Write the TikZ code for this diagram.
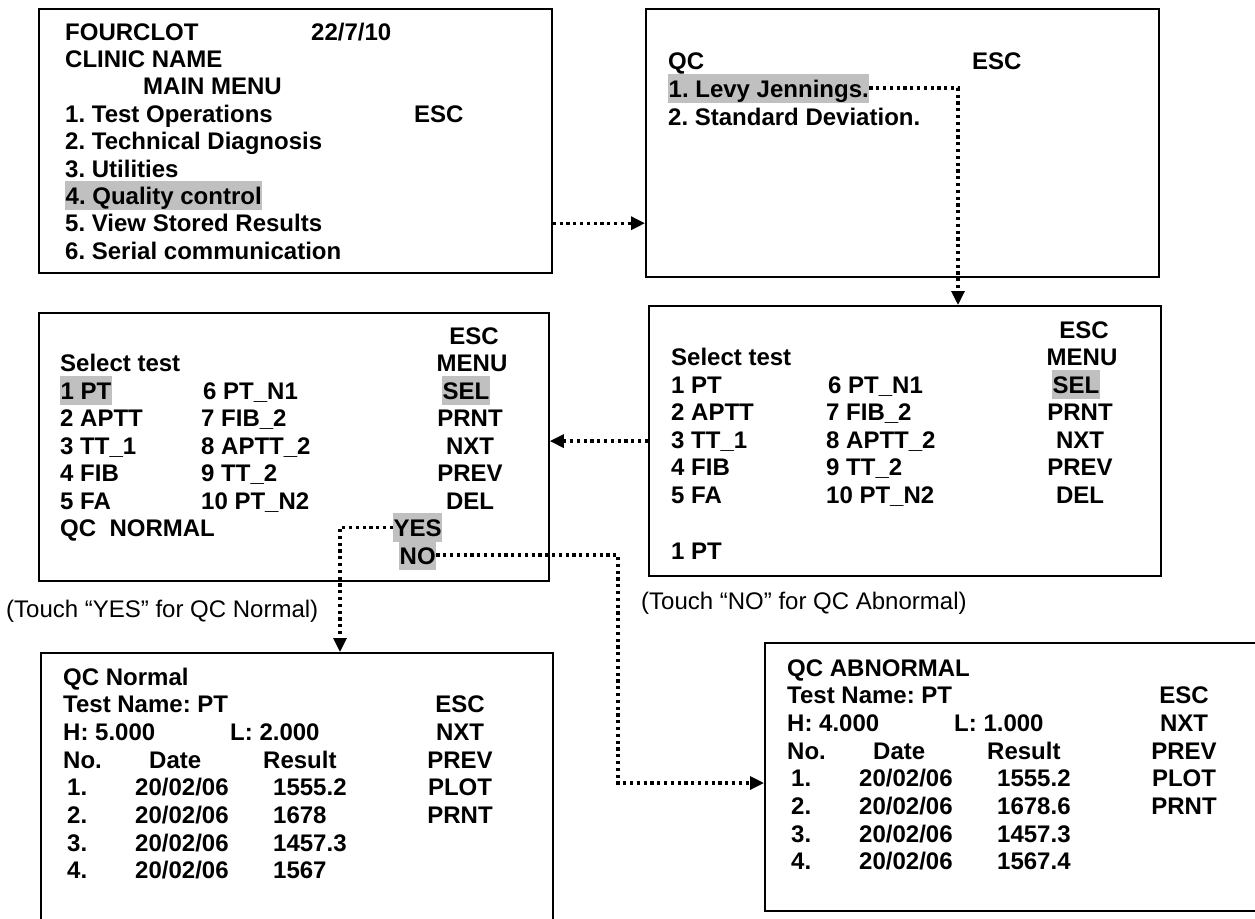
\documentclass[tikz,border=0pt]{standalone}
\usepackage{fontspec}
\setmainfont{Liberation Sans}
\usetikzlibrary{arrows.meta}
\definecolor{selgray}{HTML}{C0C0C0}
\frenchspacing
\tikzset{
  >={Triangle[length=14pt,width=13pt]},
  screen/.style 2 args={rectangle, draw, line width=1.8pt, anchor=north west,
    minimum width=#1, minimum height=#2, inner sep=0pt},
  row/.style={anchor=base west, inner sep=0pt, font=\bfseries\fontsize{24}{28}\selectfont},
  keyrow/.style={row, anchor=base},
  hl/.style={fill=selgray, inner xsep=0.5pt, inner ysep=1.5pt, text height=22pt, text depth=4pt},
  note/.style={anchor=base west, inner sep=0pt, font=\fontsize{24}{28}\selectfont},
  link/.style={->, line width=3.2pt, dash pattern=on 3.2pt off 3.6pt}
}
% test selection screen: prefix, left x, second column x, key column x, first baseline, style of "1 PT"
\newcommand{\testmenu}[6]{%
  \node[keyrow] (#1esc) at (#4+4,#5) {ESC};
  \node[row] (#1head) at (#2,#5+27.5) {Select test};
  \node[keyrow] (#1menu) at (#4+2,#5+27.5) {MENU};
  \node[row,#6] (#1t1) at (#2,#5+55) {1 PT};
  \node[row] (#1t6) at (#3+2,#5+55) {6 PT\_N1};
  \node[keyrow,hl] (#1k1) at (#4-4,#5+55) {SEL};
  \foreach \lo/\hi/\key [count=\k from 2] in {APTT/FIB\_2/PRNT, TT\_1/APTT\_2/NXT, FIB/TT\_2/PREV, FA/PT\_N2/DEL} {
    \pgfmathtruncatemacro\m{\k+5}
    \node[row] (#1t\k) at (#2,#5+27.5+27.5*\k) {\k\ \lo};
    \node[row] (#1t\m) at (#3,#5+27.5+27.5*\k) {\m\ \hi};
    \node[keyrow] (#1k\k) at (#4,#5+27.5+27.5*\k) {\key};
  }
}
% QC result screen: prefix, left x, first baseline, title, H, L, results
\newcommand{\qcscreen}[7]{%
  \node[row] (#1title) at (#2,#3) {#4};
  \node[row] (#1name) at (#2,#3+27.7) {Test Name: PT};
  \node[row] (#1high) at (#2,#3+55.4) {H: #5};
  \node[row] (#1low) at (#2+167,#3+55.4) {L: #6};
  \node[row] (#1no) at (#2,#3+83.1) {No.};
  \node[row] (#1date) at (#2+86,#3+83.1) {Date};
  \node[row] (#1res) at (#2+200,#3+83.1) {Result};
  \foreach \val [count=\k] in {#7} {
    \node[row] (#1n\k) at (#2+4,#3+83.1+27.7*\k) {\k.};
    \node[row] (#1d\k) at (#2+72,#3+83.1+27.7*\k) {20/02/06};
    \node[row] (#1r\k) at (#2+210,#3+83.1+27.7*\k) {\val};
  }
  \foreach \key [count=\k] in {ESC,NXT,PREV,PLOT,PRNT}
    \node[keyrow] (#1key\k) at (#2+397,#3+27.7*\k) {\key};
}

\begin{document}
\begin{tikzpicture}[x=1pt,y=-1pt]
\useasboundingbox (0,0) rectangle (1255,918);
\clip (0,0) rectangle (1255,918);
% screens
\node[screen={513pt}{264pt}] (menu) at (38,8) {};
\node[screen={513pt}{268pt}] (qc) at (645,8) {};
\node[screen={510pt}{268pt}] (lscr) at (38,312) {};
\node[screen={512pt}{270pt}] (rscr) at (648,305) {};
\node[screen={512pt}{300pt}] (nscr) at (40,652) {};
\node[screen={510pt}{268pt}] (ascr) at (764,642) {};
% main menu
\node[row] (mname) at (65,40) {FOURCLOT};
\node[row] (mdate) at (311,40) {22/7/10};
\node[row] (mclinic) at (65,67.4) {CLINIC NAME};
\node[row] (mhead) at (143,94.8) {MAIN MENU};
\node[row] (opt1) at (65,122.2) {1. Test Operations};
\node[row] (mesc) at (414,122.2) {ESC};
\node[row] (opt2) at (65,149.6) {2. Technical Diagnosis};
\node[row] (opt3) at (65,177) {3. Utilities};
\node[row,hl] (opt4) at (65,204.4) {4. Quality control};
\node[row] (opt5) at (65,231.8) {5. View Stored Results};
\node[row] (opt6) at (65,259.2) {6. Serial communication};
% QC menu
\node[row] (qctitle) at (668,69) {QC};
\node[row] (qcesc) at (972,69) {ESC};
\node[row,hl] (lj) at (668,97) {1. Levy Jennings.};
\node[row] (sd) at (668,125) {2. Standard Deviation.};
% test selection
\testmenu{l}{60}{201}{470}{344}{hl}
\node[row] (lqc) at (60,536.5) {QC\ \ NORMAL};
\node[row,hl] (lyes) at (393,536.5) {YES};
\node[row,hl] (lno) at (399,564) {NO};
\testmenu{r}{671}{826}{1080}{338}{}
\node[row] (rpick) at (671,559) {1 PT};
\node[note] (yescap) at (6,617) {(Touch “YES” for QC Normal)};
\node[note] (nocap) at (641,609) {(Touch “NO” for QC Abnormal)};
% results
\qcscreen{n}{63}{685}{QC Normal}{5.000}{2.000}{1555.2,1678,1457.3,1567}
\qcscreen{a}{787}{676}{QC ABNORMAL}{4.000}{1.000}{1555.2,1678.6,1457.3,1567.4}
% connectors
\coordinate (ljdrop) at (958,0);
\coordinate (yesdrop) at (340,0);
\coordinate (nodrop) at (618,783);
\draw[link] (menu.east |- opt5) -- (qc.west |- opt5);
\draw[link] (lj.east) -| (ljdrop |- rscr.north);
\draw[link] (rscr.west |- rt3) -- (lscr.east |- rt3);
\draw[link] (lyes.west) -| (yesdrop |- nscr.north);
\draw[link] (lno.east) -| (nodrop) -- (ascr.west |- nodrop);
\end{tikzpicture}
\end{document}
